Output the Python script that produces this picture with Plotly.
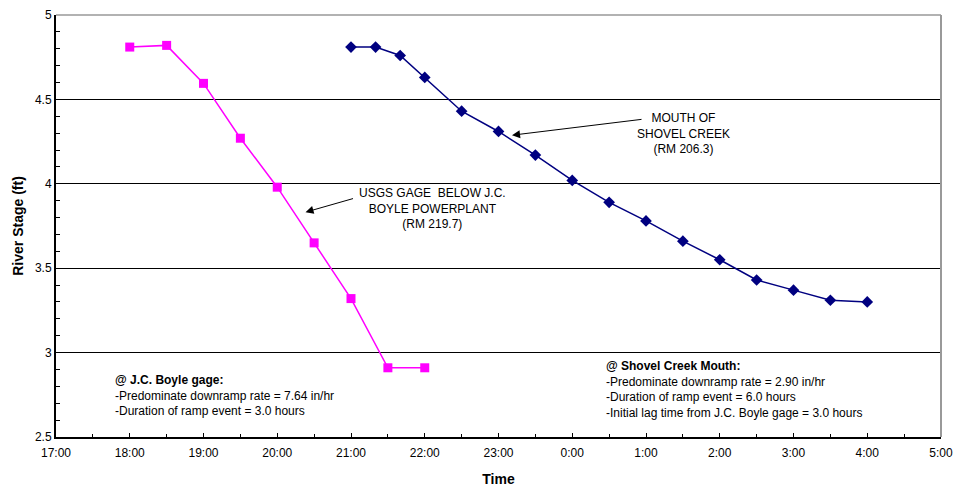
import plotly.graph_objects as go
from datetime import datetime, timedelta

# ---- Data ----
boyle_times = ["18:00", "18:30", "19:00", "19:30", "20:00", "20:30", "21:00", "21:30", "22:00"]
boyle_stage = [4.81, 4.82, 4.595, 4.27, 3.98, 3.65, 3.32, 2.91, 2.91]

shovel_times = ["21:00", "21:20", "21:40", "22:00", "22:30", "23:00", "23:30", "0:00",
                "0:30", "1:00", "1:30", "2:00", "2:30", "3:00", "3:30", "4:00"]
shovel_stage = [4.81, 4.81, 4.76, 4.63, 4.43, 4.31, 4.17, 4.02,
                3.89, 3.78, 3.66, 3.55, 3.43, 3.37, 3.31, 3.30]

x_start, x_end = "17:00", "5:00"


def to_dt(t):
    h, m = map(int, t.split(":"))
    base = datetime(2000, 1, 1)
    d = base + timedelta(hours=h, minutes=m)
    if h < 12:
        d += timedelta(days=1)
    return d


bx = [to_dt(t) for t in boyle_times]
sx = [to_dt(t) for t in shovel_times]

FONT = "Liberation Sans, Arial, sans-serif"

fig = go.Figure()
fig.add_trace(go.Scatter(
    x=bx, y=boyle_stage, mode="lines+markers", name="J.C. Boyle",
    line=dict(color="#FF00FF", width=1.5),
    marker=dict(symbol="square", size=9, color="#FF00FF"),
))
fig.add_trace(go.Scatter(
    x=sx, y=shovel_stage, mode="lines+markers", name="Shovel Creek",
    line=dict(color="#000080", width=1.5),
    marker=dict(symbol="diamond", size=9, color="#000080"),
))

fig.update_layout(
    width=953, height=487,
    margin=dict(l=56, r=12, t=15, b=50),
    paper_bgcolor="white", plot_bgcolor="white",
    showlegend=False,
    font=dict(family=FONT, size=12, color="black"),
    xaxis=dict(
        range=[to_dt(x_start), to_dt(x_end)],
        dtick=3600000, tick0=to_dt(x_start),
        tickformat="%-H:%M",
        showgrid=False, zeroline=False, automargin=False,
        ticklabeloverflow="allow", ticklabelstandoff=4,
        showline=True, linecolor="black", linewidth=2,
        ticks="inside", ticklen=4, tickcolor="black",
        minor=dict(dtick=1800000, ticks="inside", ticklen=3, tickcolor="black"),
        title=dict(text="<b>Time</b>", font=dict(size=14), standoff=16),
        tickfont=dict(size=12),
    ),
    yaxis=dict(
        range=[2.5, 5], dtick=0.5, tick0=2.5,
        showgrid=True, gridcolor="black", gridwidth=1,
        zeroline=False, automargin=False,
        showline=True, linecolor="black", linewidth=2,
        ticks="inside", ticklen=4, tickcolor="black",
        minor=dict(dtick=0.1, ticks="inside", ticklen=4, tickcolor="black", showgrid=False),
        title=dict(text="<b>River Stage (ft)</b>", font=dict(size=14), standoff=8),
        tickfont=dict(size=12),
    ),
)

# Frame: gray top and right borders
fig.add_shape(type="line", xref="paper", yref="paper", x0=0, x1=1, y0=1, y1=1,
              line=dict(color="#999999", width=1.5))
fig.add_shape(type="line", xref="paper", yref="paper", x0=1, x1=1, y0=0, y1=1,
              line=dict(color="#999999", width=2))

# Series labels with arrows
fig.add_annotation(x=to_dt("20:23"), y=3.832, xref="x", yref="y",
                   ax=49, ay=-14, text="", showarrow=True,
                   arrowhead=2, arrowsize=1.6, arrowwidth=1, arrowcolor="black")
fig.add_annotation(x=0.4249, y=0.5423, xref="paper", yref="paper",
                   xanchor="center", yanchor="middle",
                   text="USGS GAGE  BELOW J.C.<br>BOYLE POWERPLANT<br>(RM 219.7)",
                   showarrow=False, align="center", font=dict(size=12))

fig.add_annotation(x=to_dt("23:11"), y=4.288, xref="x", yref="y",
                   ax=131, ay=-16, text="", showarrow=True,
                   arrowhead=2, arrowsize=1.6, arrowwidth=1, arrowcolor="black")
fig.add_annotation(x=0.7096, y=0.720, xref="paper", yref="paper",
                   xanchor="center", yanchor="middle",
                   text="MOUTH OF<br>SHOVEL CREEK<br>(RM 206.3)",
                   showarrow=False, align="center", font=dict(size=12))

# Notes
fig.add_annotation(x=0.0644, y=0.0977, xref="paper", yref="paper",
                   xanchor="left", yanchor="middle",
                   text="<b>@ J.C. Boyle gage:</b><br>-Predominate downramp rate = 7.64 in/hr"
                        "<br>-Duration of ramp event = 3.0 hours",
                   showarrow=False, align="left", font=dict(size=12))
fig.add_annotation(x=0.619, y=0.113, xref="paper", yref="paper",
                   xanchor="left", yanchor="middle",
                   text="<b>@ Shovel Creek Mouth:</b><br>-Predominate downramp rate = 2.90 in/hr"
                        "<br>-Duration of ramp event = 6.0 hours"
                        "<br>-Initial lag time from J.C. Boyle gage = 3.0 hours",
                   showarrow=False, align="left", font=dict(size=12))

# remove the default page margin so the 953x487 figure fills the window exactly
fig.write_html("out.html",
               config={"displayModeBar": False},
               post_script="document.body.style.margin='0';document.body.style.overflow='hidden';")
